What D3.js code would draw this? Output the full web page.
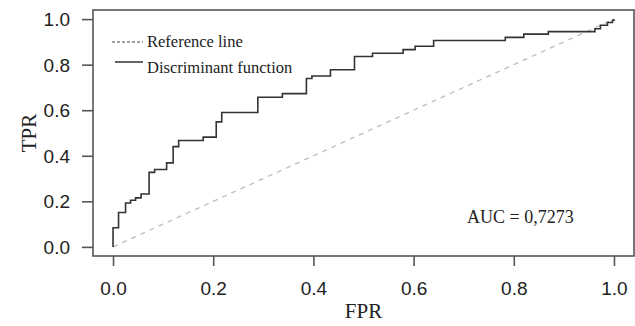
<!DOCTYPE html>
<html>
<head>
<meta charset="utf-8">
<script src="https://cdn.jsdelivr.net/npm/d3@7"></script>
<style>
  body { margin: 0; background: #fff; }
  svg { display: block; }
</style>
</head>
<body>
<div id="chart"></div>
<script>
// ROC curve corners (fpr, tpr)
var rocFpr = [0, 0, 0.011, 0.025, 0.035, 0.045, 0.056, 0.072, 0.083, 0.107, 0.12, 0.131, 0.18, 0.206, 0.217,
  0.289, 0.338, 0.386, 0.397, 0.434, 0.482, 0.518, 0.579, 0.603, 0.64, 0.783, 0.82, 0.869, 0.962, 0.973, 0.987, 0.997, 1];
var rocTpr = [0, 0.084, 0.151, 0.193, 0.205, 0.215, 0.232, 0.327, 0.340, 0.369, 0.44, 0.467, 0.482, 0.549, 0.59,
  0.657, 0.673, 0.739, 0.75, 0.778, 0.836, 0.85, 0.866, 0.881, 0.906, 0.92, 0.934, 0.945, 0.958, 0.973, 0.985, 0.995, 1];
var refLine = [[0, 0], [1, 1]];
var xTicks = [0, 0.2, 0.4, 0.6, 0.8, 1.0];
var yTicks = [0, 0.2, 0.4, 0.6, 0.8, 1.0];
var legendLabels = ["Reference line", "Discriminant function"];
var aucLabel = "AUC = 0,7273";

var width = 635, height = 326;
var box = {left: 93, right: 634, top: 10, bottom: 256};

var svg = d3.select("#chart").append("svg")
  .attr("width", width)
  .attr("height", height);

// R style: 4% padding each side
var x = d3.scaleLinear().domain([-0.04, 1.04]).range([box.left, box.right]);
var y = d3.scaleLinear().domain([-0.04, 1.04]).range([box.bottom, box.top]);

var axisCol = "#555";
var sans = "'Liberation Sans', Arial, sans-serif";
var serif = "'Liberation Serif', 'Times New Roman', serif";

// reference diagonal
svg.append("path")
  .datum(refLine)
  .attr("d", d3.line().x(function(d) { return x(d[0]); }).y(function(d) { return y(d[1]); }))
  .attr("fill", "none")
  .attr("stroke", "#bdbdbd")
  .attr("stroke-width", 1.3)
  .attr("stroke-dasharray", "5,5");

// ROC step line
var pts = rocFpr.map(function(f, i) { return [f, rocTpr[i]]; });
svg.append("path")
  .datum(pts)
  .attr("d", d3.line()
    .x(function(d) { return x(d[0]); })
    .y(function(d) { return y(d[1]); })
    .curve(d3.curveStepAfter))
  .attr("fill", "none")
  .attr("stroke", "#333")
  .attr("stroke-width", 1.6);

// box
svg.append("rect")
  .attr("x", box.left)
  .attr("y", box.top)
  .attr("width", box.right - box.left)
  .attr("height", box.bottom - box.top)
  .attr("fill", "none")
  .attr("stroke", axisCol)
  .attr("stroke-width", 1.6);

// axes
var xAxis = svg.append("g")
  .attr("transform", "translate(0," + box.bottom + ")")
  .call(d3.axisBottom(x).tickValues(xTicks).tickSize(10).tickPadding(16).tickFormat(d3.format(".1f")));
var yAxis = svg.append("g")
  .attr("transform", "translate(" + box.left + ",0)")
  .call(d3.axisLeft(y).tickValues(yTicks).tickSize(11).tickPadding(12).tickFormat(d3.format(".1f")));

[xAxis, yAxis].forEach(function(g) {
  g.select(".domain").remove();
  g.selectAll(".tick line").attr("stroke", axisCol).attr("stroke-width", 1.6);
  g.selectAll(".tick text")
    .attr("fill", "#222")
    .style("font-family", sans)
    .style("font-size", "19px");
});
yAxis.selectAll(".tick text").attr("dy", "0.35em");

// axis titles
svg.append("text")
  .attr("x", (box.left + box.right) / 2)
  .attr("y", 318)
  .attr("text-anchor", "middle")
  .style("font-family", serif)
  .style("font-size", "21px")
  .attr("fill", "#222")
  .text("FPR");

svg.append("text")
  .attr("transform", "translate(36," + ((box.top + box.bottom) / 2) + ") rotate(-90)")
  .attr("text-anchor", "middle")
  .style("font-family", serif)
  .style("font-size", "21px")
  .attr("fill", "#222")
  .text("TPR");

// legend
var legend = svg.append("g");
legend.append("line")
  .attr("x1", 112).attr("x2", 143).attr("y1", 42).attr("y2", 42)
  .attr("stroke", "#444").attr("stroke-width", 1.1).attr("stroke-dasharray", "3,2");
legend.append("line")
  .attr("x1", 115).attr("x2", 143).attr("y1", 62).attr("y2", 62)
  .attr("stroke", "#222").attr("stroke-width", 1.4);
legend.selectAll("text.leg")
  .data(legendLabels)
  .enter().append("text")
  .attr("class", "leg")
  .attr("x", 147)
  .attr("y", function(d, i) { return 47 + i * 25.5; })
  .style("font-family", serif)
  .style("font-size", "16.5px")
  .attr("fill", "#222")
  .text(function(d) { return d; });

// AUC
svg.append("text")
  .attr("x", 467)
  .attr("y", 223)
  .style("font-family", serif)
  .style("font-size", "18px")
  .attr("fill", "#222")
  .text(aucLabel);
</script>
</body>
</html>
